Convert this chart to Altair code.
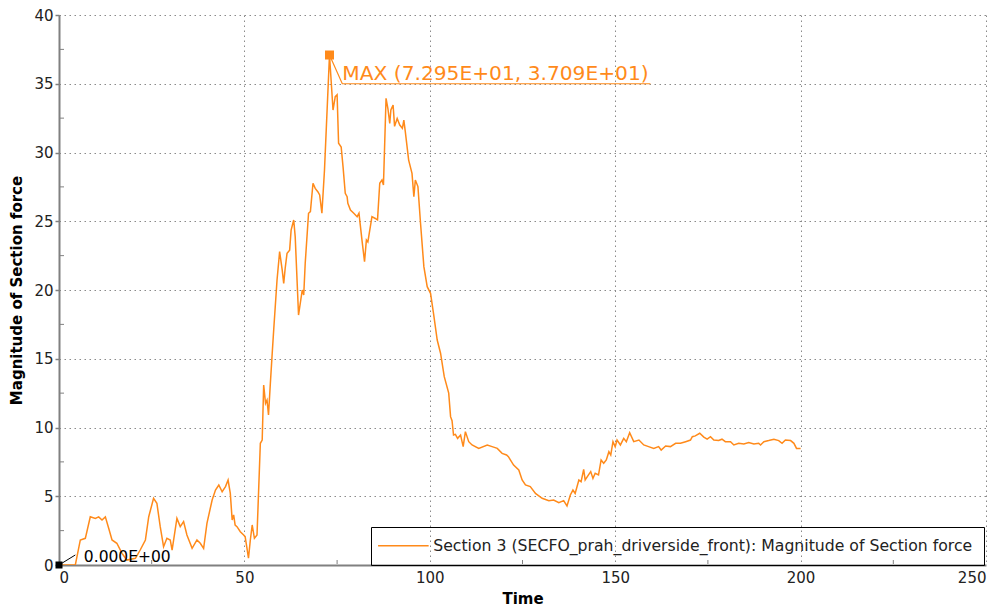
import altair as alt
import pandas as pd

# ---- data ----
time = [0, 4.4, 5.75, 7.1, 8.44, 9.8, 10.7, 11.6, 12.5, 13.4, 14.3, 15.6, 17.0, 18.3, 20.6, 21.9,
        23.3, 24.2, 25.5, 26.4, 27.3, 28.2, 29.1, 30.0, 30.5, 31.8, 32.7, 33.6, 34.5, 35.9, 37.2,
        38.1, 39.0, 39.9, 41.3, 42.2, 43.1, 44.0, 44.9, 45.6, 46.2, 46.7, 47.1, 47.5, 48.0, 48.9,
        49.8, 50.2, 50.7, 51.1, 51.6, 52.1, 52.7, 53.4, 54.3, 54.8, 55.2, 55.7, 56.1, 56.5, 57.0,
        57.5, 57.9, 58.8, 59.5, 60.2, 60.6, 61.0, 61.5, 62.2, 62.6, 63.3, 63.7, 64.6, 65.6, 66.0,
        66.4, 67.3, 67.8, 68.5, 69.1, 69.8, 70.3, 70.9, 71.6,
        72.95, 73.9, 74.5, 75.0, 75.4, 76.1, 76.6, 77.2, 77.7, 77.9, 78.6, 79.5, 80.4, 80.9, 81.7,
        82.4, 82.9, 83.3, 84.4, 85.3, 85.9, 86.5, 87.1, 87.5, 88.2, 88.7, 89.2, 89.5, 90.1, 90.5,
        91.2, 91.9, 92.6, 93.0, 93.4, 94.3, 95.2, 95.7, 96.1, 96.8, 97.5, 98.4, 99.3, 100.2, 101.0,
        102.0, 102.9, 103.9, 105.1,
        105.6, 106.0, 106.4, 106.9, 107.5, 108.3, 109.0, 109.6, 110.5, 111.4, 113.2, 115.5, 116.8,
        118.2, 119.5, 120.7, 121.2, 122.6, 124.0, 124.9, 125.8, 127.1, 128.5, 130.3, 132.1, 133.4,
        134.8, 136.1, 137.0, 137.9, 138.6, 139.2, 140.2, 140.8, 141.5, 141.9, 142.8, 143.4, 144.0,
        144.6, 145.5, 146.2, 146.9, 147.6, 148.3, 148.8, 149.4, 150.0,
        150.5, 151.4, 152.3, 153.0, 153.9, 155.0, 156.4, 157.7, 159.0, 160.4, 161.7, 162.4, 163.6,
        164.9, 166.3, 167.6, 169.0, 170.3, 170.8, 171.6, 172.8, 173.9, 174.8, 175.7, 176.6, 177.9,
        178.8, 179.7, 181.1, 182.0, 183.3, 184.7, 186.0, 187.4, 188.7, 189.2, 190.1, 191.4, 192.8,
        194.1, 195.0, 195.9, 197.3, 198.2, 198.9, 200.0]

force = [0, 0, 1.82, 1.94, 3.51, 3.39, 3.5, 3.27, 3.5, 2.67, 1.82, 1.58, 0.85, 0.36, 0.49, 1.09,
         1.82, 3.51, 4.85, 4.49, 2.79, 1.33, 1.94, 1.82, 1.09, 3.39, 2.79, 3.15, 2.18, 1.21, 1.82,
         1.58, 1.21, 3.03, 4.73, 5.45, 5.82, 5.33, 5.70, 6.18, 5.21, 3.27, 3.64, 2.90, 2.79, 2.42,
         2.18, 2.06, 1.21, 0.49, 1.82, 2.91, 1.94, 2.18, 8.85, 9.09, 13.09, 11.76, 12.0, 10.91, 13.21,
         15.4, 17.09, 20.73, 22.79, 21.45, 20.48, 21.58, 22.67, 22.9, 24.36, 25.09, 23.88, 18.18, 20.0, 19.64,
         21.94, 25.58, 25.7, 27.76, 27.39, 27.15, 26.91, 25.58, 28.73,
         37.09, 33.09, 34.06, 34.2, 30.67, 30.4, 28.97, 27.03, 26.79, 26.3, 25.82, 25.58, 25.33, 25.58, 23.64,
         22.06, 23.64, 23.5, 25.33, 25.2, 25.09, 27.76, 28.0, 27.64, 33.94, 33.2, 32.12, 33.1, 33.45, 31.9,
         32.48, 32.0, 31.76, 32.36, 31.5, 29.45, 28.48, 26.79, 28.0, 27.52, 24.85, 21.7, 20.24, 19.76, 18.3,
         16.36, 15.4, 13.7, 12.5,
         10.79, 10.5, 9.45, 9.5, 9.21, 9.45, 8.61, 9.7, 8.97, 8.73, 8.48, 8.73, 8.61,
         8.48, 8.12, 8.0, 7.88, 7.27, 6.91, 6.18, 5.82, 5.7, 5.21, 4.85, 4.68, 4.73,
         4.53, 4.68, 4.29, 5.09, 5.45, 5.2, 6.18, 6.06, 6.96, 6.18, 6.55, 6.79, 6.3,
         6.67, 6.55, 7.64, 7.4, 7.64, 8.24, 8.0, 8.97, 8.6,
         9.09, 8.73, 9.21, 8.97, 9.62, 8.97, 9.09, 8.73, 8.61, 8.48, 8.61, 8.36, 8.65,
         8.61, 8.85, 8.85, 8.97, 9.09, 9.33, 9.39, 9.58, 9.3, 9.15, 9.33, 9.09, 9.05,
         9.15, 8.97, 8.97, 8.73, 8.85, 8.8, 8.9, 8.8, 8.85, 8.73, 8.97, 9.05, 9.15,
         9.05, 8.85, 9.09, 9.05, 8.85, 8.48, 8.48]

series_name = "Section 3 (SECFO_prah_driverside_front): Magnitude of Section force"

x_ticks = [0, 50, 100, 150, 200, 250]
y_ticks = [0, 5, 10, 15, 20, 25, 30, 35, 40]
x_minor = [25, 75, 125, 175, 225]
y_minor = [2.5, 7.5, 12.5, 17.5, 22.5, 27.5, 32.5, 37.5]

max_t, max_v = [72.95], [37.09]
max_label = ["MAX (7.295E+01, 3.709E+01)"]
max_leader_t = [72.95, 76.4, 159.5]
max_leader_v = [37.09, 35.0, 35.0]
max_label_t, max_label_v = [76.4], [35.0]

min_t, min_v = [0.0], [0.0]
min_label = ["0.000E+00"]
min_leader_t = [0.0, 4.4]
min_leader_v = [0.0, 0.73]
min_label_t, min_label_v = [6.7], [0.6]

ORANGE = "#ff8a1a"
FONT = "DejaVu Sans"

df = pd.DataFrame({"Time": time, "Force": force, "series": series_name})

xs = alt.Scale(domain=[0, 250], nice=False, zero=False)
ys = alt.Scale(domain=[0, 40], nice=False)

line = alt.Chart(df).mark_line(strokeWidth=1.5, clip=True).encode(
    x=alt.X("Time:Q", scale=xs,
            axis=alt.Axis(values=x_ticks, title="Time", grid=True, ticks=False,
                          labelPadding=5, titlePadding=6, format="d")),
    y=alt.Y("Force:Q", scale=ys,
            axis=alt.Axis(values=y_ticks, title="Magnitude of Section force", grid=True,
                          tickSize=4, labelPadding=2, titlePadding=9, format="d")),
    color=alt.Color("series:N", scale=alt.Scale(range=[ORANGE]),
                    legend=alt.Legend(title=None, orient="none", legendX=312, legendY=512,
                                      strokeColor="black", fillColor="transparent", padding=11,
                                      symbolType="M-4.6,0H4.6", symbolSize=121, symbolStrokeWidth=1.5,
                                      symbolOffset=13.5, labelOffset=22,
                                      labelFontSize=15.7, labelLimit=900,
                                      labelColor="#222222", labelFont=FONT, cornerRadius=0)),
)

xminor = alt.Chart(pd.DataFrame({"m": x_minor})).mark_rule(color="#808080", strokeWidth=1).encode(
    x=alt.X("m:Q", scale=xs), y=alt.value(549), y2=alt.value(545))
yminor = alt.Chart(pd.DataFrame({"m": y_minor})).mark_rule(color="#808080", strokeWidth=1).encode(
    y=alt.Y("m:Q", scale=ys), x=alt.value(1), x2=alt.value(5))

max_lead = alt.Chart(pd.DataFrame({"t": max_leader_t, "v": max_leader_v, "o": [0, 1, 2]})).mark_line(
    color=ORANGE, strokeWidth=1.2).encode(
    x=alt.X("t:Q", scale=xs), y=alt.Y("v:Q", scale=ys), order="o:Q")
max_pt = alt.Chart(pd.DataFrame({"t": max_t, "v": max_v})).mark_square(
    color=ORANGE, size=81, opacity=1, filled=True).encode(
    x=alt.X("t:Q", scale=xs), y=alt.Y("v:Q", scale=ys))
max_txt = alt.Chart(pd.DataFrame({"t": max_label_t, "v": max_label_v, "s": max_label})).mark_text(
    align="left", baseline="alphabetic", dy=-4, fontSize=20.2, font=FONT, color=ORANGE).encode(
    x=alt.X("t:Q", scale=xs), y=alt.Y("v:Q", scale=ys), text="s:N")

min_lead = alt.Chart(pd.DataFrame({"t": min_leader_t, "v": min_leader_v, "o": [0, 1]})).mark_line(
    color="black", strokeWidth=1).encode(
    x=alt.X("t:Q", scale=xs), y=alt.Y("v:Q", scale=ys), order="o:Q")
min_pt = alt.Chart(pd.DataFrame({"t": min_t, "v": min_v})).mark_square(
    color="black", size=49, opacity=1, filled=True).encode(
    x=alt.X("t:Q", scale=xs), y=alt.Y("v:Q", scale=ys))
min_txt = alt.Chart(pd.DataFrame({"t": min_label_t, "v": min_label_v, "s": min_label})).mark_text(
    align="left", baseline="middle", fontSize=15.5, font=FONT, color="black").encode(
    x=alt.X("t:Q", scale=xs), y=alt.Y("v:Q", scale=ys), text="s:N")

chart = alt.layer(line, xminor, yminor, max_lead, max_pt, max_txt, min_lead, min_pt, min_txt).properties(
    width=927, height=550,
    autosize=alt.AutoSizeParams(type="none"),
    padding={"left": 51, "top": 7, "right": 10, "bottom": 41},
).configure(font=FONT).configure_view(stroke=None).configure_axis(
    domainColor="#808080", domainWidth=2, tickColor="#808080", tickWidth=1.5,
    gridColor="#8a8a8a", gridDash=[1.5, 3.5], gridWidth=1,
    labelFont=FONT, labelFontSize=15, labelColor="#222222",
    titleFont=FONT, titleFontSize=15, titleFontWeight="bold", titleColor="black",
)

chart.save("out.html", embed_options={"renderer": "svg", "actions": False})
